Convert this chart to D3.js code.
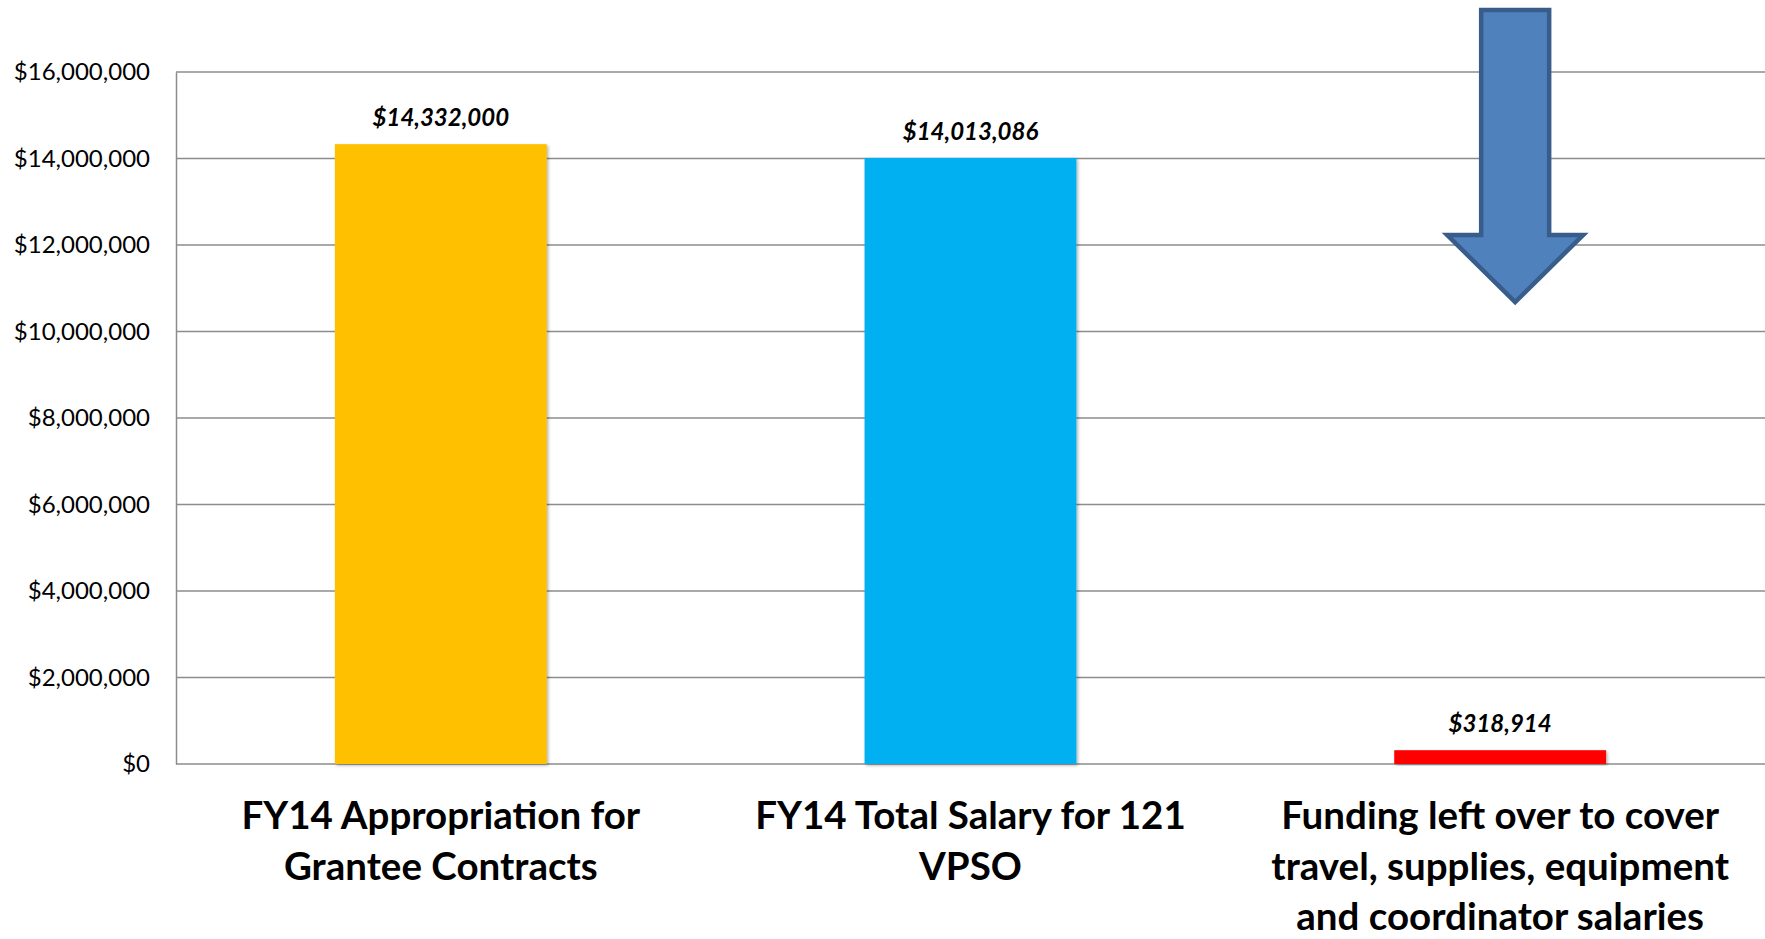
<!DOCTYPE html>
<html>
<head>
<meta charset="utf-8">
<script src="https://cdn.jsdelivr.net/npm/d3@7"></script>
<style>
  body { margin: 0; background: #fff; }
  svg { display: block; }
</style>
</head>
<body>
<div id="chart"></div>
<script>
// Chart data
const categories = [
  ['FY14 Appropriation for', 'Grantee Contracts'],
  ['FY14 Total Salary for 121', 'VPSO'],
  ['Funding left over to cover', 'travel, supplies, equipment', 'and coordinator salaries']
];
const values = [14332000, 14013086, 318914];
const barColors = ['#FFC000', '#00B0F0', '#FF0000'];
const yTicks = [0, 2000000, 4000000, 6000000, 8000000, 10000000, 12000000, 14000000, 16000000];

const W = 1765, H = 939;
const margin = { top: 72, right: 0, bottom: 175, left: 176 };
const width = W - margin.left - margin.right;
const height = H - margin.top - margin.bottom;
const FONT = 'Lato, "Open Sans", sans-serif';

const svg = d3.select('#chart').append('svg')
  .attr('width', W)
  .attr('height', H);

// soft shadow under the bars
const defs = svg.append('defs');
defs.append('filter').attr('id', 'shadow')
  .attr('x', '-10%').attr('y', '-10%').attr('width', '120%').attr('height', '120%')
  .append('feDropShadow')
  .attr('dx', 1.5).attr('dy', 1.5).attr('stdDeviation', 1.5)
  .attr('flood-color', '#000').attr('flood-opacity', 0.3);

const g = svg.append('g')
  .attr('transform', `translate(${margin.left},${margin.top})`);

// Scales
const x = d3.scaleBand()
  .domain(d3.range(values.length))
  .range([0, width])
  .padding(0);
const y = d3.scaleLinear()
  .domain([0, 16000000])
  .range([height, 0]);

const fmt = d3.format('$,');

// Gridlines
g.append('g')
  .selectAll('line')
  .data(yTicks)
  .join('line')
  .attr('x1', 0)
  .attr('x2', width)
  .attr('y1', d => y(d))
  .attr('y2', d => y(d))
  .attr('stroke', '#8c8c8c')
  .attr('stroke-width', 1.5);

// Y axis
const yAxis = d3.axisLeft(y).tickValues(yTicks).tickFormat(fmt).tickSize(0).tickPadding(26);
const yg = g.append('g').call(yAxis);
yg.select('.domain').attr('stroke', '#8c8c8c').attr('stroke-width', 1.5);
yg.selectAll('text')
  .attr('font-family', FONT)
  .attr('font-size', 24)
  .attr('fill', '#000');

// Bars
const barW = x.bandwidth() * 0.4;
g.selectAll('.bar')
  .data(values)
  .join('rect')
  .attr('class', 'bar')
  .attr('x', (d, i) => x(i) + (x.bandwidth() - barW) / 2)
  .attr('y', d => y(d))
  .attr('width', barW)
  .attr('height', d => height - y(d))
  .attr('fill', (d, i) => barColors[i])
  .attr('filter', 'url(#shadow)');

// Value labels
g.selectAll('.val')
  .data(values)
  .join('text')
  .attr('class', 'val')
  .attr('x', (d, i) => x(i) + x.bandwidth() / 2)
  .attr('y', d => y(d) - 18)
  .attr('text-anchor', 'middle')
  .attr('font-family', FONT)
  .attr('font-size', 24)
  .attr('font-weight', 'bold')
  .attr('font-style', 'italic')
  .attr('fill', '#000')
  .text(d => fmt(d));

// Category labels
const cat = g.selectAll('.cat')
  .data(categories)
  .join('text')
  .attr('class', 'cat')
  .attr('text-anchor', 'middle')
  .attr('font-family', FONT)
  .attr('font-size', 38.5)
  .attr('font-weight', 'bold')
  .attr('fill', '#000');
cat.selectAll('tspan')
  .data((d, i) => d.map(t => ({ t, i })))
  .join('tspan')
  .attr('x', d => x(d.i) + x.bandwidth() / 2)
  .attr('y', (d, j) => height + 65 + j * 50.5)
  .text(d => d.t);

// Down arrow annotation over the last category
const ax = x(2) + x.bandwidth() / 2 + 15;
const arrow = [
  [ax - 34, 10 - margin.top],
  [ax + 34, 10 - margin.top],
  [ax + 34, 235 - margin.top],
  [ax + 68, 235 - margin.top],
  [ax, 302 - margin.top],
  [ax - 68, 235 - margin.top],
  [ax - 34, 235 - margin.top]
];
g.append('path')
  .attr('d', d3.line()(arrow) + 'Z')
  .attr('fill', '#4F81BD')
  .attr('stroke', '#385D8A')
  .attr('stroke-width', 4.5)
  .attr('stroke-linejoin', 'miter');
</script>
</body>
</html>
